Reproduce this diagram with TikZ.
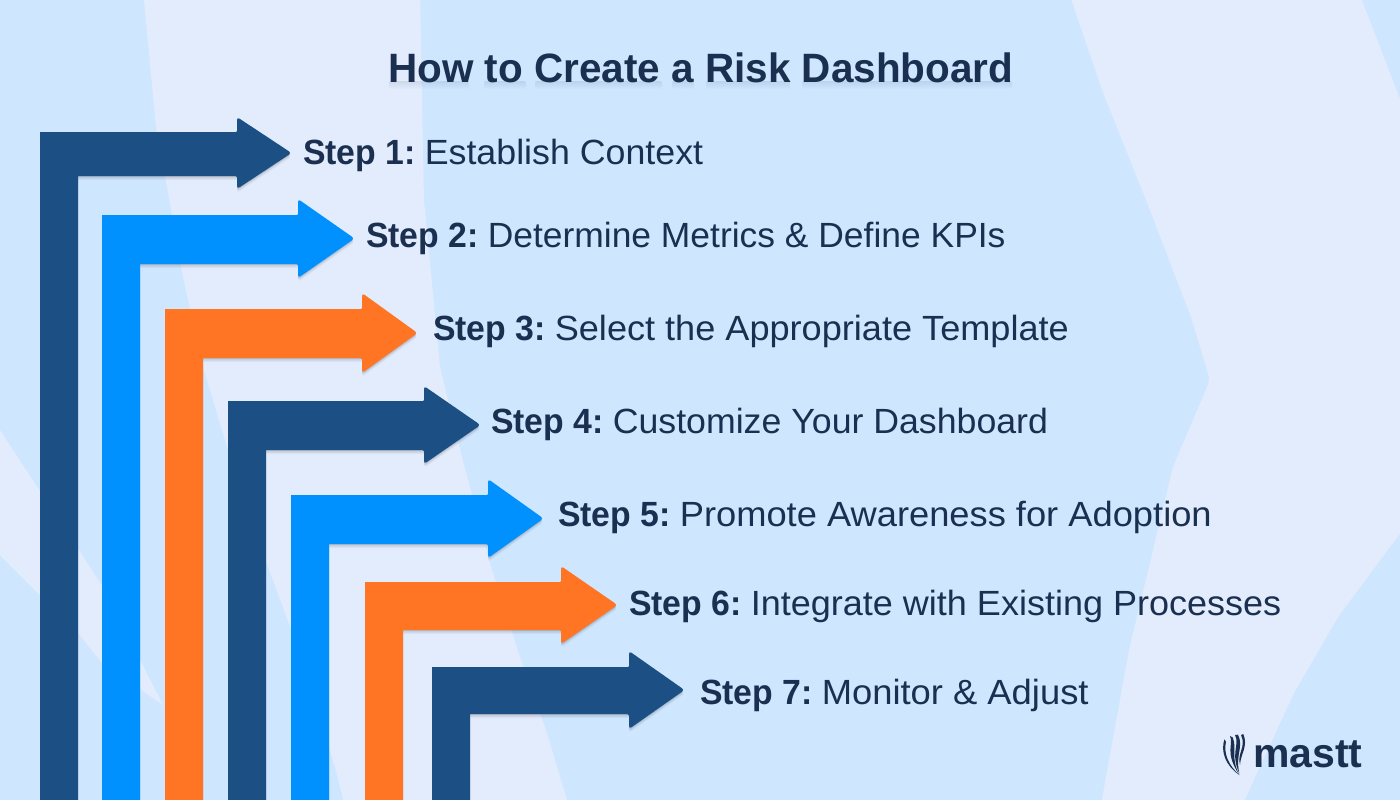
\documentclass[tikz,border=0pt]{standalone}
\usepackage{fontspec}
\usepackage{graphicx}
\usetikzlibrary{fadings}
\setmainfont{Liberation Sans}
\definecolor{basebg}{HTML}{CFE6FF}
\definecolor{lav}{HTML}{E2ECFD}
\definecolor{navy}{HTML}{1C5085}
\definecolor{sky}{HTML}{0091FF}
\definecolor{orng}{HTML}{FF7524}
\definecolor{ink}{HTML}{1B3050}
\tikzset{
  bgshape/.style={fill=lav,rounded corners=6},
  steplabel/.style={anchor=base west,inner sep=0pt,text=ink,font=\fontsize{35}{35}\selectfont},
  titlelabel/.style={anchor=base west,inner sep=0pt,font=\fontsize{41}{41}\selectfont\bfseries},
  titleglow/.style={fill=ink,opacity=0.10,path fading=south,rounded corners=2},
}
% #1 colour, #2 left, #3 top, #4 inner x, #5 shaft bottom, #6 head x, #7 head top, #8 head bottom, #9 tip x, tip y = mid
\newcommand{\benthead}[9]{%
  \foreach \o/\op in {1/0.10,2.5/0.07,4/0.04}{
    \fill[black,opacity=\op,yshift=-\o pt] (#2,800) -- (#2,#3) -- (#6,#3) [rounded corners=3] -- (#6,#7-1) -- (#9+1.5,{(#7+#8)/2}) -- (#6,#8+1) [sharp corners] -- (#6,#5) -- (#4,#5) -- (#4,800) -- cycle;
  }
  \fill[#1] (#4,810) [rounded corners=3] -- (#4,800) [sharp corners] -- (#4,#5) [rounded corners=1.5] -- (#6,#5) [rounded corners=3] -- (#6,#8+1) -- (#9+1.5,{(#7+#8)/2}) -- (#6,#7-1) [rounded corners=1] -- (#6,#3) [sharp corners] -- (#2,#3) -- (#2,810) -- cycle;
}
\newcommand{\steptext}[6]{% name, x, baseline, bold, rest, xscale of rest
  \node[steplabel] (#1) at (#2,#3) {\scalebox{0.965}[1]{\textbf{#4}}\hspace{9pt}\scalebox{#6}[1]{#5}};
}
\begin{document}
\begin{tikzpicture}[x=1pt,y=-1pt]
\useasboundingbox (0,0) rectangle (1400,800);
\clip (0,0) rectangle (1400,800);
\fill[basebg] (0,0) rectangle (1400,800);
% background shapes
\fill[bgshape] (143,-10) -- (156,127) -- (167,187) -- (183,277) -- (203,367) -- (228,450) -- (268,567) -- (295,640) -- (335,767) -- (346,810)
  -- (570,810) -- (547,733) -- (520,657) -- (491,567) -- (462,457) -- (440,367) -- (424,200) -- (422,100) -- (420,-10) -- cycle;
\fill[bgshape] (1068,-10) -- (1102,90) -- (1146,200) -- (1191,317) -- (1210,380) -- (1173,467) -- (1153,550) -- (1129,650) -- (1100,810)
  -- (1240,810) -- (1294,693) -- (1338,617) -- (1410,520) -- (1410,125) -- (1358,-10) -- cycle;
\fill[lav] (-10,415) -- (103,587) -- (163,705) -- (102,663) -- (78,633) -- (-10,545) -- cycle;
% arrows
\benthead{navy}{40}{132}{78}{176}{237}{118}{188}{290}
\benthead{sky}{102}{215}{140}{264}{298}{200}{277}{353}
\benthead{orng}{165}{309}{203}{358}{362}{294}{372}{416}
\benthead{navy}{228}{401}{266}{450}{424}{387}{463}{479}
\benthead{sky}{291}{495}{329}{544}{488}{480}{557}{542}
\benthead{orng}{365}{582}{403}{630}{561}{567}{643}{616}
\benthead{navy}{432}{667}{470}{714}{629}{652}{728}{683}
% title shadow: soft bands under the words
\foreach \a/\b in {389/469,484/526,535/662,672/694,706/790,802/1012}{
  \fill[titleglow] (\a,81) rectangle (\b,89);
}
\node[titlelabel,text=ink] (title) at (388,82) {\scalebox{0.987}[1]{How to Create a Risk Dashboard}};
% steps
\steptext{s1}{303}{164}{Step 1:}{Establish Context}{1.022}
\steptext{s2}{366}{247}{Step 2:}{Determine Metrics \& Define KPIs}{1.012}
\steptext{s3}{433}{340}{Step 3:}{Select the Appropriate Template}{1.032}
\steptext{s4}{491}{433}{Step 4:}{Customize Your Dashboard}{1.02}
\steptext{s5}{558}{526}{Step 5:}{Promote Awareness for Adoption}{1.037}
\steptext{s6}{629}{615}{Step 6:}{Integrate with Existing Processes}{1.029}
\steptext{s7}{700}{704}{Step 7:}{Monitor \& Adjust}{1.039}
% logo
\node[anchor=base west,inner sep=0pt,text=ink,font=\fontsize{41}{41}\selectfont\bfseries] (logo) at (1253,767) {mastt};
\begin{scope}[shift={(1180,710)},x=0.3333pt,y=-0.3333pt]
\fill[ink] (133,88) .. controls (122,125) and (135,165) .. (178,195) .. controls (145,165) and (130,130) .. (138,95) -- cycle;
\fill[ink] (150,78) .. controls (162,105) and (132,125) .. (178,195) .. controls (150,140) and (172,115) .. (158,82) -- cycle;
\fill[ink] (165,75) .. controls (180,105) and (150,130) .. (178,190) .. controls (165,135) and (192,110) .. (174,74) -- cycle;
\fill[ink] (183,75) .. controls (200,110) and (170,130) .. (180,165) .. controls (182,130) and (205,110) .. (190,72) -- cycle;
\end{scope}
\end{tikzpicture}
\end{document}
